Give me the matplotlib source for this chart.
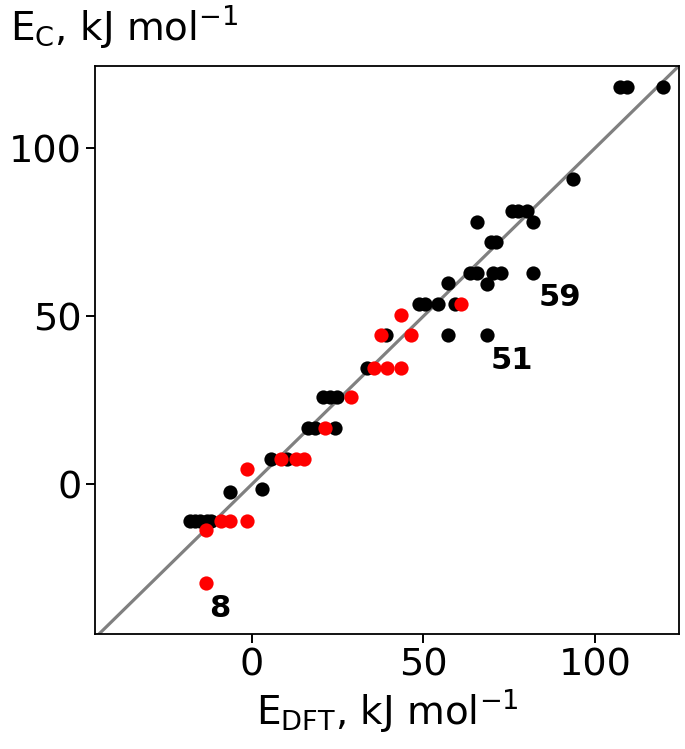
import numpy as np
import matplotlib
matplotlib.use("Agg")
import matplotlib.pyplot as plt

# black points (E_DFT, E_C)
black_x = [-18.1, -16.6, -15.2, -13.2, -11.8, -6.4, 2.8, 5.7, 10.1,
           16.4, 18.4, 24.2, 20.8, 22.7, 24.7, 33.6, 39.1, 57.2, 68.5,
           48.6, 50.4, 54.3, 59.2, 57.3, 68.7, 63.6, 65.5, 70.4, 72.6, 82.0,
           69.7, 71.3, 65.5, 82.0, 75.9, 77.6, 80.1, 93.5, 107.3, 109.3, 119.9]
black_y = [-11.1, -11.1, -11.1, -11.1, -11.1, -2.3, -1.4, 7.5, 7.5,
           16.8, 16.8, 16.8, 26.1, 26.1, 26.1, 34.5, 44.5, 44.5, 44.5,
           53.5, 53.5, 53.5, 53.5, 60.0, 59.6, 62.8, 62.8, 62.8, 62.8, 62.8,
           72.0, 72.0, 78.0, 78.0, 81.3, 81.3, 81.3, 90.7, 118.2, 118.2, 118.2]

# red points
red_x = [-13.3, -13.3, -9.0, -6.4, -1.4, -1.4, 8.5, 13.0, 15.3,
         21.2, 29.0, 35.7, 39.5, 43.4, 37.5, 46.3, 43.5, 61.0]
red_y = [-29.4, -13.7, -11.1, -11.1, -11.1, 4.4, 7.5, 7.5, 7.5,
         16.8, 26.1, 34.5, 34.5, 34.5, 44.5, 44.5, 50.4, 53.5]

# labelled outliers
labels = ["8", "59", "51"]
label_x = [-9.3, 89.8, 75.7]
label_y = [-36.9, 55.7, 36.9]

fig = plt.figure(figsize=(6.85, 7.49), dpi=100)
ax = fig.add_axes([0.139, 0.1535, 0.852, 0.758])

ax.plot([-60, 140], [-60, 140], color="gray", lw=2.3, zorder=1)
ax.scatter(black_x, black_y, s=105, color="black", zorder=2, linewidths=0)
ax.scatter(red_x, red_y, s=105, color="red", zorder=3, linewidths=0)

for t, x, y in zip(labels, label_x, label_y):
    ax.text(x, y, t, fontsize=22, fontweight="bold", ha="center", va="center")

ax.set_xlim(-45.7, 124.5)
ax.set_ylim(-44.6, 124.4)
ax.set_xticks([0, 50, 100])
ax.set_yticks([0, 50, 100])
ax.tick_params(labelsize=27.5, length=6.5, width=1.4)
for sp in ax.spines.values():
    sp.set_linewidth(1.3)

ax.set_xlabel(r"E$\mathregular{_{DFT}}$, kJ mol$^{-1}$", fontsize=28, labelpad=2)
fig.text(0.015, 0.964, r"E$\mathregular{_C}$, kJ mol$^{-1}$", fontsize=28,
         ha="left", va="center")

fig.savefig("out.png", dpi=100)
